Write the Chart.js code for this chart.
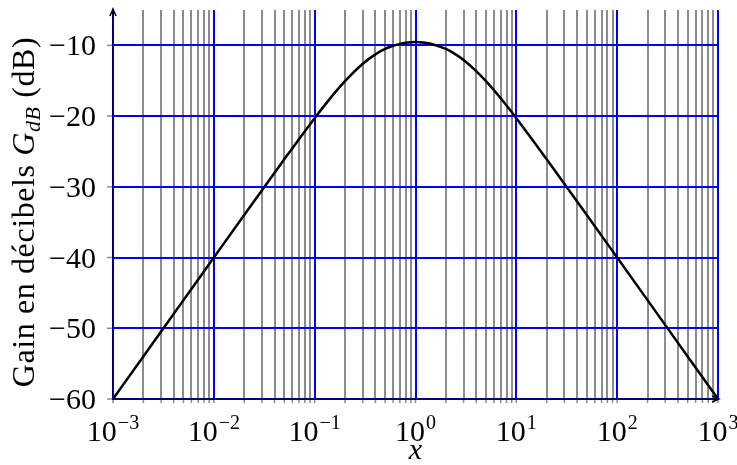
<!DOCTYPE html>
<html>
<head>
<meta charset="utf-8">
<script src="https://cdn.jsdelivr.net/npm/chart.js@4/dist/chart.umd.min.js"></script>
<style>
  html, body { margin: 0; padding: 0; background: #fff; }
  #wrap { width: 737px; height: 465px; }
</style>
</head>
<body>
<div id="wrap"><canvas id="bode"></canvas></div>
<script>
// Frequency ratio x (log axis) and gain
const xValues = [0.001, 0.002, 0.005, 0.01, 0.02, 0.05, 0.1, 0.15, 0.2, 0.3, 0.4, 0.5,
    0.6, 0.7, 0.8, 0.9, 1, 1.1, 1.25, 1.5, 2, 2.5, 3, 4, 5, 7, 10, 20, 50, 100, 200, 500, 1000];
const gainValues = [-60.0, -53.98, -46.02, -40.0, -33.99, -26.10, -20.29, -17.11, -15.06, -12.60, -11.27, -10.51,
    -10.06, -9.79, -9.64, -9.56, -9.54, -9.56, -9.64, -9.87, -10.51, -11.27, -12.07, -13.63, -15.06, -17.48,
    -20.29, -26.10, -33.99, -40.0, -46.02, -53.98, -60.0];

// Axis ticks
const xDecades = [0.001, 0.01, 0.1, 1, 10, 100, 1000];
const xDecadeExponents = ['\u22123', '\u22122', '\u22121', '0', '1', '2', '3'];
const xMinorFactors = [2, 3, 4, 5, 6, 7, 8, 9];
const yTicks = [-60, -50, -40, -30, -20, -10];
const yTickLabels = ['\u221260', '\u221250', '\u221240', '\u221230', '\u221220', '\u221210'];

const serif = "'Liberation Serif', 'DejaVu Serif', serif";
const blue = '#0000ff';
const grey = '#8c8c8c';

// all vertical grid positions: decades plus 2..9 multiples between them
const xGridValues = [];
xDecades.forEach((d, i) => {
    xGridValues.push(d);
    if (i < xDecades.length - 1) xMinorFactors.forEach(f => xGridValues.push(d * f));
});

const labelsPlugin = {
    id: 'labels',
    afterDraw(chart) {
        const ctx = chart.ctx;
        const xs = chart.scales.x, ys = chart.scales.y;
        const area = chart.chartArea;
        ctx.save();

        // small grey tick marks outside the axes
        ctx.strokeStyle = grey;
        ctx.lineWidth = 1.5;
        yTicks.forEach(v => {
            const py = ys.getPixelForValue(v);
            ctx.beginPath(); ctx.moveTo(area.left - 6, py); ctx.lineTo(area.left, py); ctx.stroke();
        });
        xGridValues.forEach(v => {
            const px = xs.getPixelForValue(v);
            ctx.beginPath(); ctx.moveTo(px, area.bottom); ctx.lineTo(px, area.bottom + 4); ctx.stroke();
        });

        // axes
        ctx.strokeStyle = '#00007a';
        ctx.lineWidth = 2;
        ctx.beginPath();
        ctx.moveTo(area.left, area.top); ctx.lineTo(area.left, area.bottom); ctx.lineTo(area.right, area.bottom);
        ctx.stroke();
        // arrow heads
        ctx.strokeStyle = '#000';
        ctx.lineWidth = 1.5;
        ctx.beginPath();
        ctx.moveTo(area.left - 3, area.top + 6); ctx.lineTo(area.left, area.top - 1); ctx.lineTo(area.left + 3, area.top + 6);
        ctx.moveTo(area.right - 6, area.bottom - 3); ctx.lineTo(area.right + 1, area.bottom); ctx.lineTo(area.right - 6, area.bottom + 3);
        ctx.stroke();

        // y tick labels
        ctx.fillStyle = '#000';
        ctx.font = '30px ' + serif;
        ctx.textAlign = 'right';
        ctx.textBaseline = 'alphabetic';
        yTicks.forEach((v, i) => {
            ctx.fillText(yTickLabels[i], area.left - 17, ys.getPixelForValue(v) + 10);
        });

        // x tick labels 10^n
        ctx.textAlign = 'left';
        xDecades.forEach((d, i) => {
            ctx.font = '30px ' + serif;
            const base = '10';
            const wb = ctx.measureText(base).width;
            ctx.font = '20px ' + serif;
            const we = ctx.measureText(xDecadeExponents[i]).width;
            const px = xs.getPixelForValue(d);
            const x0 = px - (wb + we + 1) / 2;
            ctx.font = '30px ' + serif;
            ctx.fillText(base, x0, area.bottom + 42);
            ctx.font = '20px ' + serif;
            ctx.fillText(xDecadeExponents[i], x0 + wb + 1, area.bottom + 30);
        });

        // x axis title
        ctx.font = 'italic 30px ' + serif;
        ctx.textAlign = 'center';
        ctx.fillText('x', xs.getPixelForValue(1), area.bottom + 60);

        // y axis title, rotated
        const parts = [
            { t: 'Gain en décibels ', f: '32px ' + serif, dy: 0 },
            { t: 'G', f: 'italic 32px ' + serif, dy: 0 },
            { t: 'dB', f: 'italic 22px ' + serif, dy: 6 },
            { t: ' (dB)', f: '32px ' + serif, dy: 0 }
        ];
        ctx.letterSpacing = '0.6px';
        let total = 0;
        parts.forEach(p => { ctx.font = p.f; p.w = ctx.measureText(p.t).width; total += p.w; });
        ctx.translate(34, 212);
        ctx.rotate(-Math.PI / 2);
        ctx.textAlign = 'left';
        let cx = -total / 2;
        parts.forEach(p => {
            ctx.font = p.f;
            ctx.fillText(p.t, cx, p.dy);
            cx += p.w;
        });
        ctx.restore();
    }
};

new Chart(document.getElementById('bode'), {
    type: 'line',
    data: {
        datasets: [{
            data: xValues.map((x, i) => ({ x: x, y: gainValues[i] })),
            borderColor: '#000',
            borderWidth: 2.5,
            pointRadius: 0,
            fill: false,
            cubicInterpolationMode: 'monotone'
        }]
    },
    options: {
        responsive: true,
        maintainAspectRatio: false,
        animation: false,
        layout: { padding: { left: 113, right: 19, top: 10, bottom: 66 } },
        plugins: { legend: { display: false }, tooltip: { enabled: false } },
        scales: {
            x: {
                type: 'logarithmic',
                min: 0.001,
                max: 1000,
                afterBuildTicks: scale => { scale.ticks = xGridValues.map(v => ({ value: v })); },
                ticks: { display: false, autoSkip: false },
                border: { display: false },
                grid: {
                    drawTicks: false,
                    lineWidth: 2,
                    color: c => (xDecades.includes(c.tick && c.tick.value) ? blue : grey)
                }
            },
            y: {
                min: -60,
                max: -5,
                afterBuildTicks: scale => { scale.ticks = yTicks.map(v => ({ value: v })); },
                ticks: { display: false },
                border: { display: false },
                grid: { drawTicks: false, lineWidth: 2, color: blue }
            }
        }
    },
    plugins: [labelsPlugin]
});
</script>
</body>
</html>
